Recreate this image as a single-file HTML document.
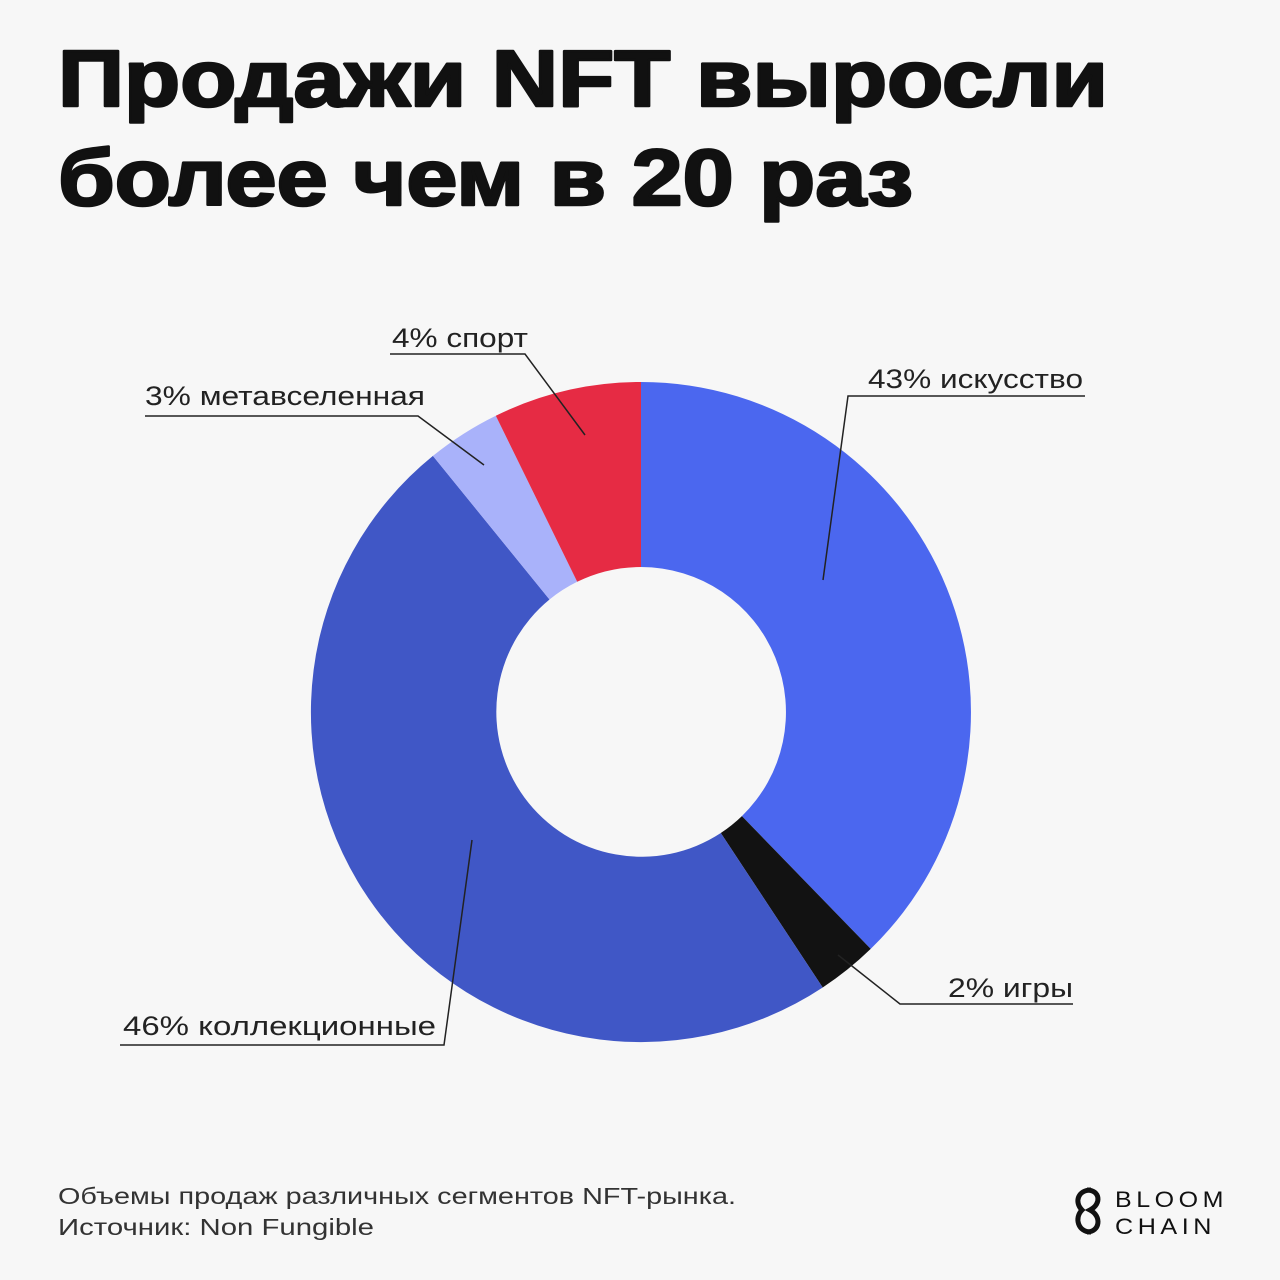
<!DOCTYPE html>
<html><head><meta charset="utf-8"><style>
html,body{margin:0;padding:0;background:#f7f7f7;}
svg{display:block;}
</style></head><body>
<svg width="1280" height="1280" viewBox="0 0 1280 1280" xmlns="http://www.w3.org/2000/svg">
<rect width="1280" height="1280" fill="#f7f7f7"/>
<g font-family="Liberation Sans, sans-serif" font-weight="bold" fill="#111" stroke="#111" stroke-width="2.5" stroke-linejoin="round" font-size="80">
<text x="58" y="106" textLength="1050" lengthAdjust="spacingAndGlyphs">Продажи NFT выросли</text>
<text x="58" y="205" textLength="855" lengthAdjust="spacingAndGlyphs">более чем в 20 раз</text>
</g>
<path d="M641,382 A330,330 0 0 1 870.7,948.9 L741.9,816.1 A145,145 0 0 0 641,567 Z" fill="#4b67ef"/>
<path d="M870.7,948.9 A330,330 0 0 1 822.7,987.5 L720.8,833 A145,145 0 0 0 741.9,816.1 Z" fill="#121212"/>
<path d="M822.7,987.5 A330,330 0 0 1 432.9,455.9 L549.5,599.5 A145,145 0 0 0 720.8,833 Z" fill="#4057c6"/>
<path d="M432.9,455.9 A330,330 0 0 1 495.8,415.7 L577.2,581.8 A145,145 0 0 0 549.5,599.5 Z" fill="#a9b2fa"/>
<path d="M495.8,415.7 A330,330 0 0 1 641,382 L641,567 A145,145 0 0 0 577.2,581.8 Z" fill="#e62b44"/>
<g stroke="#222" stroke-width="1.5" fill="none">
<polyline points="823,580 848,396 1085,396"/>
<polyline points="838,955 900,1004 1073,1004"/>
<polyline points="472,840 444,1045 120,1045"/>
<polyline points="484,465 418,416 145,416"/>
<polyline points="585,435 525,354 390,354"/>
</g>
<g font-family="Liberation Sans, sans-serif" fill="#222" font-size="27">
<text x="868" y="388" textLength="215" lengthAdjust="spacingAndGlyphs">43% искусство</text>
<text x="948" y="997" textLength="125" lengthAdjust="spacingAndGlyphs">2% игры</text>
<text x="123" y="1035" textLength="313" lengthAdjust="spacingAndGlyphs">46% коллекционные</text>
<text x="145" y="405" textLength="280" lengthAdjust="spacingAndGlyphs">3% метавселенная</text>
<text x="392" y="347" textLength="136" lengthAdjust="spacingAndGlyphs">4% спорт</text>
</g>
<g font-family="Liberation Sans, sans-serif" fill="#333" font-size="23">
<text x="58" y="1204" textLength="678" lengthAdjust="spacingAndGlyphs">Объемы продаж различных сегментов NFT-рынка.</text>
<text x="58" y="1235" textLength="316" lengthAdjust="spacingAndGlyphs">Источник: Non Fungible</text>
</g>
<g fill="none" stroke="#111" stroke-width="5">
<path d="M1091,1190 C1078,1190 1074,1202 1082,1210 C1074,1218 1078,1232 1091,1232"/>
<path d="M1087,1190 C1100,1190 1102,1204 1090,1210 C1102,1216 1100,1232 1087,1232"/>
</g>
<g font-family="Liberation Sans, sans-serif" fill="#111" font-size="22" letter-spacing="4">
<text x="1115" y="1207" textLength="113" lengthAdjust="spacingAndGlyphs">BLOOM</text>
<text x="1115" y="1234" textLength="101" lengthAdjust="spacingAndGlyphs">CHAIN</text>
</g>
</svg>
</body></html>
